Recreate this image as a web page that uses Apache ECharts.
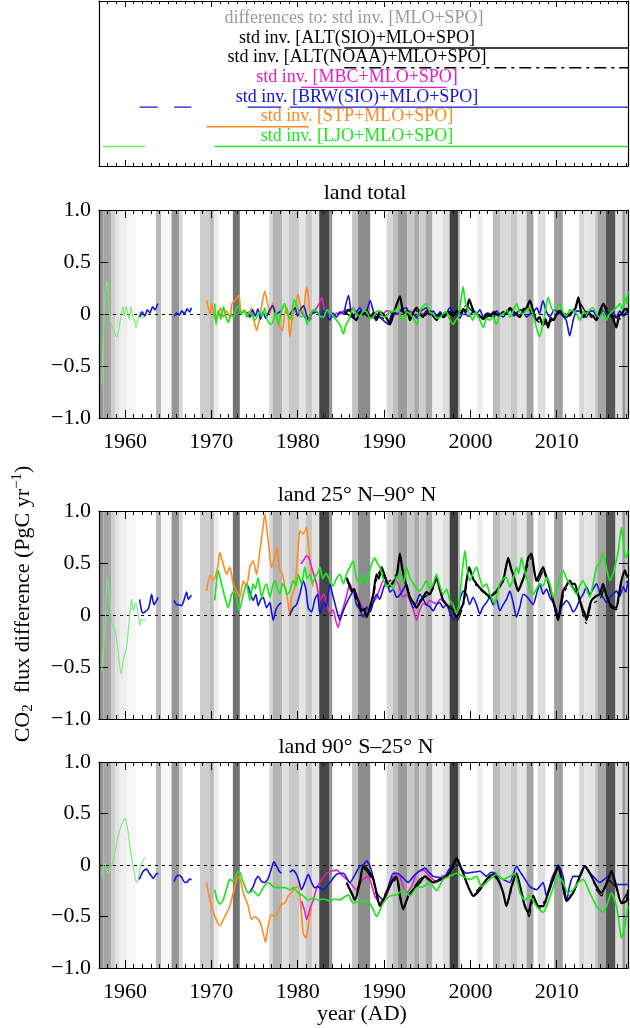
<!DOCTYPE html>
<html><head><meta charset="utf-8">
<script src="https://cdn.jsdelivr.net/npm/echarts@6/dist/echarts.min.js"></script>
<style>html,body{margin:0;padding:0;background:#fff}#c{width:630px;height:1028px}</style>
</head><body><div id="c"></div>
<script>
const FONT = '"Liberation Serif","Times New Roman","DejaVu Serif",serif';
const X_MIN = 1957, X_MAX = 2018.25;
const DECADES = [1960, 1970, 1980, 1990, 2000, 2010];
const Y_MIN = -1, Y_MAX = 1, Y_STEP = 0.5;

const panelTitles = ['land total', 'land 25\u00b0 N\u201390\u00b0 N', 'land 90\u00b0 S\u201325\u00b0 N'];
const legendTitle = 'differences to: std inv. [MLO+SPO]';
const legendLabels = ['std inv. [ALT(SIO)+MLO+SPO]', 'std inv. [ALT(NOAA)+MLO+SPO]', 'std inv. [MBC+MLO+SPO]',
  'std inv. [BRW(SIO)+MLO+SPO]', 'std inv. [STP+MLO+SPO]', 'std inv. [LJO+MLO+SPO]'];
const xTitle = 'year (AD)';

// record periods shown in the legend box
const periodAltSio = [[1985.4, 2018.25]];
const periodAltNoaa = [[1985.4, 2018.25]];
const periodMbc = [[1980.4, 1997.2]];
const periodBrw = [[1961.7, 1963.8], [1965.7, 1967.7], [1974.2, 1978.1], [1979.1, 2018.25]];
const periodStp = [[1969.45, 1981.3]];
const periodLjoEarly = [[1957.45, 1962.4]];
const periodLjo = [[1970.4, 2018.25]];

// grey shading bands [start, end, grey level]
const bands = [
[1957.0,1957.5,150],[1957.5,1958.4,165],[1958.4,1958.9,205],[1958.9,1959.4,225],[1959.4,1960.3,238],[1960.3,1961.3,246],
[1963.6,1964.2,185],[1964.2,1965.4,246],[1965.4,1966.3,150],[1966.3,1966.7,215],[1968.7,1969.8,205],[1969.8,1970.3,185],
[1970.3,1970.8,235],[1972.5,1973.3,115],[1976.7,1977.1,215],[1977.1,1978.2,180],[1978.2,1979.0,222],[1979.0,1980.2,200],
[1980.2,1980.9,228],[1980.9,1981.7,200],[1981.7,1982.5,225],[1982.5,1983.7,70],[1983.7,1984.0,150],[1986.3,1987.0,195],
[1987.0,1988.4,140],[1990.3,1991.0,215],[1991.0,1991.6,190],[1991.6,1992.7,155],[1992.7,1993.5,200],[1993.5,1994.1,170],
[1994.1,1994.8,205],[1994.8,1995.6,170],[1995.6,1996.8,238],[1996.8,1997.6,222],[1997.6,1998.6,65],[1998.6,1998.8,180],
[2000.8,2001.4,238],[2002.6,2003.5,190],[2003.5,2004.7,218],[2004.7,2005.4,200],[2005.4,2006.5,228],[2006.5,2007.3,165],
[2007.8,2008.7,222],[2009.7,2010.7,160],[2012.6,2013.2,215],[2013.2,2014.4,228],[2014.4,2014.7,200],[2014.7,2015.7,165],
[2015.7,2016.8,85],[2016.8,2017.6,222],[2017.6,2017.9,150],[2017.9,2018.25,200]
];

// ---------- panel 1: land total ----------
const p1LjoEarly = [[1957.3,-0.68],[1957.5,-0.2],[1957.7,0.18],[1957.95,0.32],[1958.15,0.05],[1958.35,-0.08],[1958.55,-0.13],[1958.8,-0.18],[1959.05,-0.22],[1959.3,-0.15],[1959.55,-0.02],[1959.75,0.07],[1959.95,-0.02],[1960.1,0.07],[1960.3,0.02],[1960.5,-0.05],[1960.7,0.07],[1960.9,-0.03],[1961.1,-0.06],[1961.3,-0.13],[1961.5,-0.05],[1961.75,0.02],[1962.0,-0.04],[1962.2,-0.02]];
const p1Brw = [[1961.7,-0.03],[1962.0,0.02],[1962.3,-0.02],[1962.6,0.04],[1962.9,0.01],[1963.2,0.07],[1963.5,0.04],[1963.8,0.1],null,
[1965.7,-0.02],[1966.0,0.01],[1966.3,-0.01],[1966.6,0.03],[1966.9,0.0],[1967.2,0.05],[1967.5,0.02],[1967.7,0.06],null,
[1974.2,0.02],[1974.5,-0.03],[1974.8,0.04],[1975.1,-0.02],[1975.4,0.05],[1975.7,-0.05],[1976.0,0.02],[1976.3,-0.04],[1976.7,0.03],[1977.1,0.08],[1977.5,0.0],[1978.1,0.03],null,
[1979.1,0.0],[1979.4,0.03],[1979.7,0.06],[1980.0,-0.02],[1980.3,0.04],[1980.7,0.08],[1981.0,0.0],[1981.3,-0.07],[1981.6,0.0],[1982.2,0.02],[1982.6,-0.02],[1983.0,0.03],[1983.4,0.0],[1983.7,-0.06],[1984.1,0.01],[1984.5,-0.03],[1984.9,0.02],[1985.3,0.0],[1985.6,0.1],[1985.9,0.18],[1986.2,0.0],[1986.4,-0.03],[1986.8,0.02],[1987.2,0.06],[1987.6,-0.01],[1988.0,0.03],[1988.4,0.13],[1988.8,0.02],[1989.1,0.0],[1989.5,-0.03],[1989.9,-0.06],[1990.5,-0.1],[1990.8,-0.02],[1991.1,0.02],[1991.6,0.0],[1992.0,0.04],[1992.6,0.06],[1993.0,-0.02],[1993.4,0.0],[1993.8,-0.04],[1994.2,0.02],[1994.9,0.06],[1995.3,-0.01],[1995.7,0.03],[1996.1,-0.02],[1996.5,0.02],[1997.0,-0.03],[1997.6,0.06],[1998.0,0.02],[1998.4,0.0],[1998.8,-0.04],[1999.2,0.03],[1999.6,-0.01],[1999.9,-0.02],[2000.3,0.02],[2000.7,0.0],[2001.1,0.04],[2001.5,-0.03],[2001.9,0.01],[2002.3,0.0],[2002.7,-0.04],[2003.0,0.03],[2003.4,0.0],[2003.8,-0.03],[2004.2,0.02],[2004.6,0.06],[2005.0,-0.02],[2005.3,0.0],[2005.7,0.04],[2006.1,0.03],[2006.5,-0.03],[2006.9,0.0],[2007.3,0.02],[2007.7,0.06],[2008.0,0.0],[2008.4,0.13],[2008.8,0.02],[2009.2,-0.03],[2009.7,0.04],[2010.2,0.02],[2010.7,-0.02],[2011.1,-0.06],[2011.5,-0.21],[2011.9,-0.06],[2012.3,0.03],[2012.7,0.02],[2013.1,-0.02],[2013.4,-0.03],[2013.8,0.02],[2014.2,0.03],[2014.6,-0.02],[2015.0,0.0],[2015.4,0.03],[2015.8,-0.02],[2016.2,0.01],[2016.5,0.02],[2016.9,-0.03],[2017.3,0.03],[2017.7,-0.02],[2018.1,0.02],[2018.25,0.0]];
const p1Stp = [[1969.45,0.13],[1969.65,0.06],[1969.85,0.0],[1970.05,0.1],[1970.25,0.02],[1970.5,-0.06],[1970.8,0.0],[1971.05,0.06],[1971.4,-0.03],[1971.75,0.03],[1972.15,-0.03],[1972.4,0.1],[1972.75,0.13],[1973.0,0.16],[1973.2,0.18],[1973.5,0.0],[1973.9,0.03],[1974.3,-0.03],[1974.65,0.06],[1974.95,-0.06],[1975.25,-0.16],[1975.55,-0.06],[1975.8,0.06],[1976.2,0.22],[1976.45,0.13],[1976.8,0.0],[1977.1,0.11],[1977.35,0.02],[1977.65,-0.06],[1977.95,-0.13],[1978.25,-0.16],[1978.5,0.0],[1978.8,0.06],[1979.1,-0.22],[1979.35,-0.06],[1979.7,0.06],[1980.05,0.19],[1980.35,0.06],[1980.65,0.0],[1980.9,0.19],[1981.1,0.26],[1981.35,0.06],[1981.6,-0.06]];
const p1Mbc = [[1980.4,0.02],[1980.8,-0.03],[1981.1,-0.05],[1981.4,-0.02],[1981.8,0.02],[1982.2,0.06],[1982.5,0.1],[1982.8,0.16],[1983.1,0.04],[1983.4,0.0],[1983.8,0.02],[1984.1,-0.03],[1984.5,0.01],[1984.9,0.0],[1985.3,0.03],[1985.7,0.02],[1986.1,0.04],[1986.4,0.06],[1986.8,0.02],[1987.2,0.0],[1987.6,0.03],[1988.0,0.02],[1988.4,-0.01],[1988.8,-0.03],[1989.1,-0.06],[1989.5,-0.02],[1989.9,0.0],[1990.3,0.03],[1990.7,0.02],[1991.1,-0.01],[1991.5,0.0],[1991.8,0.04],[1992.2,0.02],[1992.6,0.01],[1993.0,0.03],[1993.4,0.0],[1993.8,-0.03],[1994.1,0.01],[1994.5,0.0],[1994.9,0.03],[1995.3,0.02],[1995.7,-0.01],[1996.1,-0.02],[1996.5,0.01],[1996.9,-0.03],[1997.2,-0.02]];
const p1AltSio = [[1985.5,0.0],[1985.8,0.04],[1986.1,0.03],[1986.4,-0.02],[1986.8,-0.06],[1987.2,0.02],[1987.6,0.0],[1988.0,0.03],[1988.4,-0.03],[1988.8,0.01],[1989.1,-0.06],[1989.5,0.02],[1989.9,0.0],[1990.3,-0.04],[1990.7,-0.1],[1991.1,0.0],[1991.5,0.1],[1991.85,0.17],[1992.1,0.06],[1992.4,0.0],[1992.7,0.03],[1993.0,-0.06],[1993.4,0.02],[1993.8,0.06],[1994.2,0.0],[1994.5,-0.03],[1994.9,0.02],[1995.3,0.03],[1995.7,-0.02],[1996.1,-0.06],[1996.5,0.0],[1996.85,-0.03],[1997.2,0.01],[1997.6,0.02],[1998.0,-0.02],[1998.4,0.03],[1998.8,0.0],[1999.2,0.05],[1999.5,0.02],[1999.85,0.14],[2000.3,0.04],[2000.7,0.0],[2001.1,-0.02],[2001.5,-0.05],[2001.9,0.0],[2002.3,-0.02],[2002.7,0.02],[2003.0,0.0],[2003.4,-0.02],[2003.8,0.02],[2004.2,0.0],[2004.6,0.06],[2005.0,0.02],[2005.3,0.0],[2005.7,-0.03],[2006.1,0.03],[2006.5,0.06],[2006.9,0.13],[2007.3,0.02],[2007.65,-0.06],[2008.0,-0.03],[2008.4,-0.11],[2008.7,-0.05],[2009.0,-0.13],[2009.3,-0.04],[2009.6,-0.06],[2010.0,0.0],[2010.4,0.03],[2010.8,-0.01],[2011.1,-0.03],[2011.5,0.0],[2011.9,0.03],[2012.2,0.06],[2012.5,0.16],[2012.8,0.03],[2013.1,-0.03],[2013.5,0.02],[2013.8,0.0],[2014.2,-0.02],[2014.6,-0.06],[2015.0,0.03],[2015.4,0.1],[2015.8,0.02],[2016.1,0.0],[2016.5,-0.04],[2016.9,-0.13],[2017.2,-0.02],[2017.5,0.0],[2017.8,0.04],[2018.1,0.05],[2018.25,0.02]];
const p1AltNoaa = [[1985.5,0.02],[1986.5,-0.04],[1987.5,0.01],[1988.5,-0.04],[1989.5,-0.02],[1990.5,-0.08],[1991.5,0.08],[1992.5,0.0],[1993.5,0.04],[1994.5,-0.02],[1995.5,0.02],[1996.5,-0.04],[1997.5,0.01],[1998.5,0.02],[1999.5,0.08],[2000.5,0.0],[2001.5,-0.04],[2002.5,-0.01],[2003.5,0.01],[2004.5,0.05],[2005.5,0.0],[2006.5,0.08],[2007.5,-0.05],[2008.5,-0.1],[2009.5,-0.06],[2010.5,0.02],[2011.5,-0.02],[2012.5,0.12],[2013.5,0.0],[2014.5,-0.05],[2015.5,0.08],[2016.5,-0.02],[2017.5,-0.05],[2018.2,0.03]];
const p1Ljo = [[1970.4,0.1],[1970.55,-0.1],[1970.8,0.03],[1971.1,-0.05],[1971.4,0.07],[1971.7,-0.03],[1972.0,-0.08],[1972.3,0.0],[1972.6,-0.03],[1972.9,0.06],[1973.2,0.07],[1973.5,0.0],[1973.8,0.04],[1974.1,-0.03],[1974.4,0.02],[1974.7,0.0],[1975.0,-0.06],[1975.3,-0.03],[1975.6,0.02],[1975.9,-0.02],[1976.2,0.06],[1976.5,-0.06],[1976.9,-0.1],[1977.2,-0.06],[1977.5,0.02],[1977.8,-0.1],[1978.1,0.02],[1978.5,0.1],[1978.8,0.0],[1979.2,-0.05],[1979.6,0.14],[1980.0,0.06],[1980.4,-0.03],[1980.8,0.0],[1981.1,-0.1],[1981.4,-0.03],[1981.8,0.04],[1982.2,0.03],[1982.6,-0.02],[1983.0,-0.03],[1983.4,0.04],[1983.7,0.02],[1984.1,-0.02],[1984.5,-0.06],[1984.9,-0.1],[1985.3,-0.19],[1985.6,-0.1],[1985.9,-0.06],[1986.2,0.02],[1986.4,0.05],[1986.8,0.0],[1987.2,-0.02],[1987.6,0.03],[1988.0,0.02],[1988.4,-0.04],[1988.75,-0.03],[1989.1,0.02],[1989.5,0.03],[1989.9,-0.03],[1990.3,-0.02],[1990.7,0.03],[1991.1,0.02],[1991.6,0.06],[1991.9,-0.02],[1992.2,-0.06],[1992.6,0.02],[1993.0,0.0],[1993.4,-0.04],[1993.8,-0.1],[1994.1,0.0],[1994.35,0.06],[1994.9,0.1],[1995.3,0.02],[1995.7,0.0],[1996.1,-0.04],[1996.5,-0.03],[1996.9,0.01],[1997.2,0.02],[1997.6,-0.05],[1998.0,-0.1],[1998.3,-0.06],[1998.6,-0.03],[1998.9,0.12],[1999.15,0.26],[1999.45,0.1],[1999.75,0.03],[2000.0,-0.02],[2000.3,-0.06],[2000.6,0.02],[2000.9,-0.02],[2001.2,-0.08],[2001.5,-0.13],[2001.9,-0.04],[2002.25,-0.06],[2002.6,-0.02],[2003.0,-0.1],[2003.4,-0.02],[2003.8,0.0],[2004.2,0.04],[2004.6,-0.03],[2005.0,0.04],[2005.35,0.1],[2005.7,0.02],[2006.1,0.0],[2006.5,0.04],[2006.9,0.06],[2007.3,-0.02],[2007.65,-0.13],[2008.0,-0.22],[2008.4,-0.1],[2008.7,0.04],[2009.0,0.16],[2009.3,0.08],[2009.6,0.03],[2010.0,0.06],[2010.35,0.1],[2010.7,0.02],[2011.1,-0.02],[2011.5,0.04],[2011.9,0.03],[2012.3,0.0],[2012.7,-0.06],[2013.1,0.02],[2013.45,0.0],[2013.8,0.04],[2014.2,0.06],[2014.6,0.0],[2015.0,-0.03],[2015.4,0.02],[2015.75,-0.06],[2016.1,0.0],[2016.5,0.03],[2016.9,0.06],[2017.3,0.1],[2017.6,0.04],[2017.9,0.16],[2018.1,0.1],[2018.25,0.22]];

// ---------- panel 2: land 25N-90N ----------
const p2LjoEarly = [[1957.3,-0.54],[1957.5,-0.3],[1957.7,-0.12],[1957.96,0.36],[1958.25,0.14],[1958.45,-0.05],[1958.65,-0.12],[1958.85,-0.13],[1959.05,-0.25],[1959.25,-0.37],[1959.55,-0.57],[1959.8,-0.44],[1960.0,-0.37],[1960.2,-0.31],[1960.5,-0.05],[1960.77,0.15],[1960.97,0.04],[1961.16,0.11],[1961.35,0.09],[1961.55,0.01],[1961.75,-0.1],[1961.93,-0.04],[1962.12,-0.05],[1962.4,-0.04]];
const p2Brw = [[1961.7,0.15],[1961.93,0.04],[1962.1,0.02],[1962.32,0.03],[1962.7,0.06],[1962.9,0.12],[1963.09,0.2],[1963.36,0.1],[1963.6,0.13],[1963.85,0.17],null,
[1965.7,0.14],[1965.98,0.1],[1966.17,0.1],[1966.56,0.09],[1966.83,0.14],[1967.14,0.22],[1967.33,0.15],[1967.52,0.17],[1967.72,0.19],null,
[1974.25,0.28],[1974.55,0.2],[1974.85,0.14],[1975.16,0.2],[1975.43,0.09],[1975.74,0.15],[1976.01,0.17],[1976.4,0.07],[1976.78,0.12],[1976.98,0.03],[1977.17,-0.05],[1977.48,0.05],[1977.75,0.09],[1978.1,0.12],null,
[1979.1,0.0],[1979.48,0.07],[1979.87,0.1],[1980.26,0.2],[1980.64,0.33],[1980.95,0.25],[1981.22,0.07],[1981.61,0.03],[1981.99,0.15],[1982.3,0.2],[1982.58,0.01],[1983.0,0.12],[1983.3,0.08],[1983.73,0.3],[1984.1,0.18],[1984.5,0.05],[1984.89,-0.05],[1985.28,0.04],[1985.7,0.12],[1986.05,0.18],[1986.44,0.23],[1986.8,0.1],[1987.2,0.05],[1987.59,-0.02],[1988.0,0.08],[1988.4,0.03],[1988.75,0.12],[1989.14,0.2],[1989.5,0.15],[1989.9,0.25],[1990.29,0.33],[1990.7,0.22],[1991.05,0.25],[1991.45,0.17],[1991.9,0.2],[1992.25,0.25],[1992.61,0.3],[1993.0,0.15],[1993.38,0.07],[1993.75,0.12],[1994.15,0.2],[1994.55,0.15],[1994.9,0.1],[1995.3,0.08],[1995.69,0.04],[1996.1,0.1],[1996.45,0.12],[1996.85,0.07],[1997.24,0.1],[1997.62,0.02],[1998.01,-0.05],[1998.4,0.0],[1998.8,0.15],[1999.17,0.23],[1999.55,0.2],[1999.9,0.1],[2000.32,0.17],[2000.71,0.1],[2001.1,0.01],[2001.48,0.08],[2001.87,0.12],[2002.25,0.17],[2002.64,0.1],[2003.02,0.15],[2003.41,0.04],[2003.8,0.1],[2004.18,0.15],[2004.57,0.23],[2004.95,0.12],[2005.34,-0.02],[2005.73,0.08],[2006.11,0.2],[2006.5,0.18],[2006.88,0.14],[2007.27,0.1],[2007.65,0.2],[2008.04,0.3],[2008.43,0.2],[2008.81,0.25],[2009.2,0.17],[2009.58,0.12],[2009.97,0.05],[2010.16,-0.05],[2010.55,0.08],[2010.74,0.1],[2011.13,0.14],[2011.51,0.1],[2011.9,0.03],[2012.28,0.07],[2012.67,0.15],[2013.06,0.2],[2013.44,0.27],[2013.83,0.2],[2014.21,0.25],[2014.6,0.3],[2014.99,0.22],[2015.37,0.17],[2015.76,0.12],[2016.14,0.17],[2016.53,0.2],[2016.91,0.23],[2017.3,0.18],[2017.69,0.27],[2018.0,0.22],[2018.25,0.33]];
const p2Stp = [[1969.45,0.23],[1969.84,0.38],[1970.22,0.33],[1970.53,0.39],[1970.8,0.49],[1971.0,0.6],[1971.38,0.49],[1971.77,0.39],[1972.15,0.46],[1972.54,0.3],[1972.93,0.23],[1973.31,0.17],[1973.7,0.33],[1974.08,0.27],[1974.47,0.46],[1974.85,0.52],[1975.24,0.39],[1975.63,0.62],[1975.94,0.81],[1976.2,0.97],[1976.59,0.71],[1976.98,0.46],[1977.36,0.55],[1977.56,0.65],[1977.94,0.43],[1978.25,0.39],[1978.52,0.27],[1978.79,0.17],[1979.1,-0.01],[1979.29,0.17],[1979.68,0.27],[1980.06,0.65],[1980.26,0.81],[1980.64,0.78],[1981.03,0.84],[1981.22,0.7],[1981.41,0.55],[1981.6,0.35],[1981.8,0.27]];
const p2Mbc = [[1980.35,0.49],[1980.64,0.52],[1981.03,0.57],[1981.3,0.55],[1981.61,0.46],[1981.9,0.38],[1982.19,0.3],[1982.58,0.14],[1983.0,0.2],[1983.35,0.12],[1983.73,0.01],[1984.1,0.05],[1984.4,-0.05],[1984.7,-0.12],[1985.0,0.0],[1985.28,0.07],[1985.7,0.2],[1986.05,0.3],[1986.44,0.22],[1986.82,0.2],[1987.2,0.12],[1987.59,0.07],[1988.17,0.04],[1988.6,0.1],[1989.14,0.17],[1989.5,0.25],[1989.91,0.33],[1990.3,0.3],[1990.68,0.27],[1991.05,0.3],[1991.45,0.33],[1991.85,0.25],[1992.22,0.17],[1992.6,0.2],[1992.99,0.14],[1993.4,0.05],[1993.77,-0.05],[1994.15,0.05],[1994.54,0.11],[1994.9,0.1],[1995.31,0.14],[1995.7,0.12],[1996.08,0.11],[1996.5,0.15],[1996.85,0.14],[1997.2,0.12]];
const p2AltSio = [[1985.66,0.36],[1985.95,0.3],[1986.24,0.23],[1986.55,0.25],[1986.82,0.17],[1987.1,0.12],[1987.4,0.04],[1987.7,0.06],[1987.98,-0.02],[1988.36,0.07],[1988.75,0.2],[1989.14,0.39],[1989.4,0.35],[1989.71,0.46],[1990.0,0.4],[1990.29,0.33],[1990.7,0.28],[1991.07,0.32],[1991.45,0.36],[1991.84,0.59],[1992.1,0.45],[1992.42,0.33],[1992.7,0.25],[1992.99,0.17],[1993.4,0.12],[1993.77,0.07],[1994.15,0.12],[1994.54,0.17],[1994.9,0.22],[1995.31,0.2],[1995.7,0.28],[1996.08,0.36],[1996.45,0.25],[1996.85,0.14],[1997.24,0.1],[1997.62,0.07],[1998.0,0.05],[1998.4,-0.02],[1998.8,0.04],[1999.17,0.11],[1999.5,0.3],[1999.86,0.46],[2000.3,0.35],[2000.71,0.3],[2001.1,0.26],[2001.48,0.23],[2001.87,0.2],[2002.25,0.17],[2002.64,0.2],[2003.02,0.23],[2003.4,0.28],[2003.8,0.33],[2004.1,0.45],[2004.38,0.55],[2004.7,0.45],[2004.95,0.39],[2005.25,0.3],[2005.53,0.23],[2005.9,0.3],[2006.3,0.39],[2006.69,0.55],[2007.08,0.59],[2007.35,0.45],[2007.65,0.33],[2008.05,0.4],[2008.43,0.46],[2008.7,0.38],[2009.0,0.33],[2009.4,0.2],[2009.78,0.07],[2010.16,-0.05],[2010.45,0.1],[2010.74,0.23],[2011.1,0.28],[2011.51,0.33],[2011.8,0.3],[2012.09,0.3],[2012.4,0.22],[2012.67,0.14],[2013.0,0.06],[2013.25,0.01],[2013.44,-0.05],[2013.7,0.05],[2014.02,0.14],[2014.5,0.18],[2014.99,0.2],[2015.37,0.3],[2015.7,0.2],[2016.14,0.11],[2016.5,0.08],[2016.91,0.07],[2017.2,0.2],[2017.49,0.33],[2017.88,0.43],[2018.1,0.38],[2018.25,0.36]];
const p2AltNoaa = [[1985.7,0.33],[1986.5,0.2],[1987.5,0.05],[1988.5,0.1],[1989.5,0.42],[1990.5,0.32],[1991.5,0.4],[1991.85,0.55],[1992.5,0.3],[1993.5,0.1],[1994.5,0.16],[1995.5,0.22],[1996.1,0.34],[1997.0,0.12],[1998.0,0.04],[1998.5,-0.05],[1999.2,0.1],[1999.9,0.43],[2000.7,0.28],[2001.5,0.22],[2002.5,0.18],[2003.5,0.28],[2004.4,0.52],[2005.5,0.24],[2006.5,0.45],[2007.1,0.56],[2007.7,0.3],[2008.5,0.43],[2009.5,0.15],[2010.2,-0.03],[2010.8,0.2],[2011.5,0.3],[2012.5,0.18],[2013.4,-0.08],[2014.0,0.1],[2015.0,0.15],[2015.5,0.25],[2016.2,0.08],[2016.9,0.05],[2017.5,0.3],[2018.2,0.32]];
const p2Ljo = [[1970.4,0.14],[1970.61,0.33],[1970.8,0.43],[1971.19,0.3],[1971.57,0.17],[1971.96,0.07],[1972.35,0.2],[1972.73,0.23],[1973.23,0.04],[1973.7,0.2],[1974.08,0.3],[1974.47,0.14],[1974.85,0.3],[1975.1,0.25],[1975.43,0.36],[1975.82,0.17],[1976.1,0.25],[1976.4,0.3],[1976.78,0.17],[1977.1,0.28],[1977.36,0.33],[1977.65,0.25],[1977.94,0.2],[1978.25,0.3],[1978.52,0.27],[1978.8,0.2],[1979.1,0.23],[1979.48,0.33],[1979.8,0.28],[1980.06,0.39],[1980.45,0.3],[1980.83,0.46],[1981.1,0.35],[1981.41,0.39],[1981.7,0.3],[1981.99,0.36],[1982.3,0.4],[1982.58,0.46],[1982.9,0.35],[1983.3,0.4],[1983.73,0.33],[1984.1,0.28],[1984.5,0.35],[1984.89,0.39],[1985.3,0.3],[1985.7,0.4],[1986.05,0.46],[1986.44,0.52],[1986.8,0.35],[1987.2,0.3],[1987.59,0.39],[1988.0,0.3],[1988.4,0.45],[1988.94,0.55],[1989.2,0.5],[1989.52,0.46],[1989.9,0.35],[1990.29,0.27],[1990.7,0.3],[1991.07,0.25],[1991.45,0.36],[1991.9,0.4],[1992.25,0.3],[1992.61,0.46],[1992.99,0.36],[1993.4,0.3],[1993.8,0.25],[1994.15,0.23],[1994.54,0.28],[1994.92,0.33],[1995.3,0.25],[1995.7,0.3],[1996.08,0.39],[1996.47,0.28],[1996.85,0.2],[1997.24,0.25],[1997.62,0.14],[1998.0,0.1],[1998.4,0.01],[1998.8,0.2],[1999.1,0.45],[1999.36,0.62],[1999.6,0.45],[1999.94,0.33],[2000.3,0.4],[2000.71,0.46],[2001.1,0.35],[2001.48,0.27],[2001.87,0.3],[2002.25,0.2],[2002.55,0.15],[2002.83,0.11],[2003.1,0.2],[2003.41,0.3],[2003.8,0.35],[2004.18,0.36],[2004.57,0.27],[2004.95,0.35],[2005.34,0.46],[2005.6,0.4],[2005.92,0.55],[2006.2,0.45],[2006.5,0.36],[2006.88,0.25],[2007.27,0.2],[2007.65,0.25],[2008.04,0.3],[2008.43,0.28],[2008.81,0.36],[2009.2,0.3],[2009.58,0.17],[2009.97,0.25],[2010.36,0.35],[2010.74,0.43],[2011.13,0.35],[2011.51,0.3],[2011.9,0.25],[2012.28,0.2],[2012.67,0.28],[2013.06,0.33],[2013.44,0.25],[2013.83,0.17],[2014.21,0.3],[2014.6,0.46],[2014.99,0.5],[2015.37,0.59],[2015.76,0.45],[2016.14,0.33],[2016.53,0.4],[2016.72,0.46],[2017.1,0.6],[2017.49,0.84],[2017.7,0.7],[2017.88,0.59],[2018.1,0.55],[2018.25,0.62]];

// ---------- panel 3: land 90S-25N ----------
const p3LjoEarly = [[1957.3,-0.11],[1957.5,-0.01],[1957.69,0.02],[1957.88,-0.06],[1958.07,-0.08],[1958.46,-0.01],[1958.84,0.12],[1959.11,0.25],[1959.42,0.34],[1959.73,0.42],[1960.0,0.45],[1960.19,0.41],[1960.39,0.31],[1960.58,0.18],[1960.89,0.02],[1961.16,-0.11],[1961.35,-0.17],[1961.54,-0.14],[1961.81,-0.01],[1962.12,0.05],[1962.35,0.07]];
const p3Brw = [[1961.66,-0.14],[1961.93,-0.09],[1962.12,-0.06],[1962.51,-0.04],[1962.82,-0.08],[1963.09,-0.11],[1963.28,-0.13],[1963.6,-0.09],[1963.86,-0.08],null,
[1965.7,-0.16],[1965.98,-0.11],[1966.25,-0.1],[1966.56,-0.12],[1966.83,-0.16],[1967.14,-0.17],[1967.45,-0.14],[1967.72,-0.14],null,
[1974.4,-0.27],[1974.85,-0.21],[1975.16,-0.14],[1975.43,-0.11],[1975.82,-0.16],[1976.2,-0.17],[1976.59,-0.13],[1976.98,-0.03],[1977.25,0.03],[1977.56,-0.01],[1977.86,-0.06],[1978.13,-0.08],null,
[1979.1,-0.07],[1979.41,-0.05],[1979.79,-0.08],[1980.06,-0.13],[1980.45,-0.24],[1980.83,-0.17],[1981.22,-0.09],[1981.61,-0.17],[1981.99,-0.22],[1982.3,-0.21],[1982.96,-0.24],[1983.73,-0.17],[1984.51,-0.09],[1985.28,-0.08],[1986.05,-0.17],[1986.6,-0.1],[1987.21,-0.01],[1987.6,0.0],[1987.98,0.04],[1988.36,-0.01],[1988.75,-0.12],[1989.14,-0.27],[1989.91,-0.34],[1990.49,-0.21],[1991.07,-0.08],[1991.5,-0.08],[1992.03,-0.11],[1992.8,-0.17],[1993.3,-0.12],[1993.77,-0.08],[1994.25,-0.05],[1994.73,-0.03],[1995.2,-0.07],[1995.69,-0.11],[1996.3,-0.12],[1996.85,-0.14],[1997.4,-0.06],[1997.82,-0.01],[1998.4,0.05],[1998.9,-0.03],[1999.55,-0.08],[2000.3,-0.07],[2001.1,-0.06],[2001.87,-0.11],[2002.4,-0.07],[2002.83,-0.08],[2003.4,-0.12],[2003.8,-0.14],[2004.57,-0.17],[2005.0,-0.08],[2005.34,-0.01],[2005.7,-0.06],[2006.11,-0.11],[2006.88,-0.21],[2007.65,-0.24],[2008.1,-0.2],[2008.43,-0.17],[2008.81,-0.3],[2009.39,-0.14],[2009.8,-0.06],[2010.16,0.0],[2010.74,-0.11],[2011.13,-0.35],[2011.5,-0.2],[2011.9,-0.11],[2012.67,-0.11],[2013.25,-0.01],[2013.7,-0.06],[2014.21,-0.11],[2014.99,-0.17],[2015.5,-0.14],[2015.95,-0.11],[2016.34,-0.08],[2016.91,-0.19],[2017.69,-0.19],[2018.25,-0.19]];
const p3Stp = [[1969.45,-0.17],[1969.84,-0.34],[1970.42,-0.5],[1971.0,-0.59],[1971.57,-0.5],[1972.15,-0.4],[1972.54,-0.27],[1972.93,-0.14],[1973.23,-0.11],[1973.7,-0.27],[1974.28,-0.4],[1974.66,-0.53],[1975.05,-0.5],[1975.63,-0.55],[1976.01,-0.66],[1976.28,-0.75],[1976.59,-0.59],[1976.98,-0.48],[1977.36,-0.5],[1977.75,-0.45],[1978.13,-0.38],[1978.52,-0.37],[1978.9,-0.3],[1979.29,-0.27],[1979.68,-0.22],[1980.06,-0.21],[1980.37,-0.4],[1980.64,-0.66],[1980.95,-0.71],[1981.34,-0.53],[1981.6,-0.42]];
const p3Mbc = [[1980.45,-0.35],[1980.83,-0.45],[1981.03,-0.53],[1981.41,-0.43],[1981.8,-0.34],[1982.19,-0.23],[1982.77,-0.14],[1983.35,-0.08],[1983.9,-0.06],[1984.51,-0.05],[1985.28,-0.11],[1986.05,-0.17],[1986.82,-0.24],[1987.2,-0.18],[1987.59,-0.14],[1988.17,-0.11],[1988.94,-0.3],[1989.52,-0.37],[1990.29,-0.3],[1991.07,-0.11],[1991.64,-0.08],[1992.22,-0.21],[1992.61,-0.27],[1993.19,-0.21],[1993.77,-0.08],[1994.54,-0.05],[1995.31,-0.11],[1996.08,-0.17],[1996.66,-0.11],[1997.2,-0.1]];
const p3AltSio = [[1985.66,-0.17],[1986.24,-0.27],[1986.63,-0.34],[1987.21,-0.17],[1987.59,-0.01],[1988.17,-0.05],[1988.75,-0.14],[1989.14,-0.27],[1989.52,-0.4],[1990.29,-0.27],[1991.07,-0.14],[1991.45,-0.11],[1991.84,-0.3],[1992.22,-0.43],[1992.8,-0.3],[1993.38,-0.24],[1994.15,-0.17],[1994.73,-0.11],[1995.69,-0.17],[1996.47,-0.14],[1997.24,-0.11],[1998.01,-0.01],[1998.4,0.07],[1999.17,-0.08],[1999.75,-0.21],[2000.32,-0.3],[2001.1,-0.24],[2001.87,-0.14],[2002.64,-0.09],[2003.22,-0.14],[2003.8,-0.27],[2004.18,-0.4],[2004.76,-0.21],[2005.34,-0.08],[2005.92,-0.27],[2006.3,-0.4],[2006.69,-0.46],[2007.27,-0.3],[2007.85,-0.4],[2008.43,-0.4],[2009.0,-0.27],[2009.58,-0.14],[2010.16,-0.01],[2010.74,-0.21],[2011.13,-0.35],[2011.9,-0.27],[2012.67,-0.11],[2013.25,-0.01],[2014.02,-0.11],[2014.6,-0.21],[2015.18,-0.27],[2015.95,-0.14],[2016.34,-0.06],[2016.91,-0.21],[2017.49,-0.37],[2018.07,-0.35],[2018.25,-0.24]];
const p3AltNoaa = [[1985.7,-0.18],[1986.6,-0.33],[1987.6,-0.03],[1988.7,-0.15],[1989.5,-0.38],[1990.5,-0.22],[1991.5,-0.13],[1992.2,-0.41],[1993.2,-0.25],[1994.5,-0.12],[1995.7,-0.16],[1996.5,-0.15],[1997.5,-0.08],[1998.4,0.05],[1999.2,-0.1],[2000.3,-0.28],[2001.5,-0.18],[2002.6,-0.1],[2003.5,-0.2],[2004.2,-0.38],[2005.3,-0.1],[2006.3,-0.38],[2006.8,-0.5],[2007.3,-0.32],[2008.0,-0.42],[2009.0,-0.28],[2010.2,-0.03],[2011.1,-0.33],[2012.0,-0.25],[2013.3,-0.02],[2014.0,-0.1],[2014.6,-0.24],[2015.2,-0.3],[2016.0,-0.15],[2016.9,-0.22],[2017.5,-0.36],[2018.2,-0.26]];
const p3Ljo = [[1970.4,-0.24],[1970.69,-0.34],[1971.0,-0.38],[1971.38,-0.34],[1971.85,-0.21],[1972.15,-0.14],[1972.54,-0.16],[1972.93,-0.09],[1973.23,-0.06],[1973.7,-0.17],[1974.28,-0.27],[1974.85,-0.25],[1975.43,-0.3],[1976.01,-0.22],[1976.59,-0.17],[1977.17,-0.21],[1977.94,-0.22],[1978.52,-0.22],[1979.1,-0.24],[1979.48,-0.22],[1980.06,-0.27],[1980.64,-0.3],[1981.22,-0.34],[1981.8,-0.32],[1982.38,-0.34],[1983.0,-0.33],[1983.73,-0.35],[1984.3,-0.33],[1984.89,-0.34],[1985.4,-0.31],[1985.86,-0.29],[1986.44,-0.37],[1987.21,-0.35],[1987.98,-0.35],[1988.56,-0.4],[1989.14,-0.5],[1989.91,-0.37],[1990.68,-0.3],[1991.45,-0.29],[1992.22,-0.24],[1992.99,-0.3],[1993.77,-0.22],[1994.54,-0.21],[1995.31,-0.17],[1996.08,-0.25],[1996.85,-0.14],[1997.62,-0.11],[1998.4,-0.08],[1999.17,-0.11],[1999.94,-0.14],[2000.71,-0.11],[2001.29,-0.21],[2001.87,-0.17],[2002.64,-0.11],[2003.02,-0.09],[2003.8,-0.14],[2004.57,-0.11],[2005.15,-0.08],[2005.73,-0.27],[2006.3,-0.34],[2006.88,-0.3],[2007.65,-0.4],[2008.43,-0.46],[2009.0,-0.36],[2009.39,-0.27],[2010.16,-0.11],[2010.74,-0.17],[2011.32,-0.27],[2011.9,-0.24],[2012.48,-0.17],[2013.06,-0.14],[2013.83,-0.27],[2014.6,-0.4],[2015.37,-0.46],[2015.76,-0.4],[2016.34,-0.27],[2016.91,-0.4],[2017.2,-0.55],[2017.49,-0.71],[2017.88,-0.59],[2018.25,-0.4]];

// ---------- styling & layout ----------
const C = {altSio:'#000000', altNoaa:'#000000', mbc:'#e61ec8', brw:'#1414dc', stp:'#ff8a1e', ljo:'#1ee61e', ljoEarly:'#74ec74', grey:'#9a9a9a'};
const DASHDOT = [12, 5, 3, 5];
const GRID_LEFT = 99, GRID_W = 529;
const grids = [
  {left: GRID_LEFT, width: GRID_W, top: 1, height: 165},
  {left: GRID_LEFT, width: GRID_W, top: 210, height: 208},
  {left: GRID_LEFT, width: GRID_W, top: 511, height: 208},
  {left: GRID_LEFT, width: GRID_W, top: 762, height: 206}
];
const axisLineStyle = {color: '#000', width: 1.2};

const xAxes = [], yAxes = [];
grids.forEach((g, gi) => {
  const isLegend = gi === 0;
  const showLabels = gi === 1 || gi === 3;
  const majorLen = isLegend ? 6 : 8, minorLen = isLegend ? 3 : 4;
  const base = {type: 'value', gridIndex: gi, min: X_MIN, max: X_MAX, splitLine: {show: false}};
  ['bottom', 'top'].forEach(pos => {
    xAxes.push(Object.assign({}, base, {
      position: pos,
      axisLine: {show: true, onZero: false, lineStyle: axisLineStyle},
      axisTick: {show: true, inside: true, length: majorLen, customValues: DECADES, lineStyle: {color: '#000', width: 1}},
      axisLabel: {show: pos === 'bottom' && showLabels, customValues: DECADES, fontFamily: FONT, fontSize: 22, color: '#000', margin: 13,
        formatter: v => String(Math.round(v))}
    }));
    xAxes.push(Object.assign({}, base, {
      position: pos, interval: 1,
      axisLine: {show: false, onZero: false},
      axisTick: {show: true, inside: true, length: minorLen, lineStyle: {color: '#000', width: 1}},
      axisLabel: {show: false}
    }));
  });
  if (isLegend) {
    ['left', 'right'].forEach(pos => yAxes.push({type: 'value', gridIndex: gi, position: pos, min: 0, max: 165, inverse: true,
      axisLine: {show: true, onZero: false, lineStyle: axisLineStyle}, axisTick: {show: false}, axisLabel: {show: false}, splitLine: {show: false}}));
  } else {
    ['left', 'right'].forEach(pos => yAxes.push({type: 'value', gridIndex: gi, position: pos, min: Y_MIN, max: Y_MAX, interval: Y_STEP,
      axisLine: {show: true, onZero: false, lineStyle: axisLineStyle},
      axisTick: {show: true, inside: true, length: 9, lineStyle: {color: '#000', width: 1}},
      axisLabel: {show: pos === 'left', fontFamily: FONT, fontSize: 22, color: '#000', margin: 8,
        formatter: v => v === 0 ? '0' : (v < 0 ? '\u2212' : '') + Math.abs(v).toFixed(1)},
      splitLine: {show: false}}));
  }
});

function renderBand(params, api) {
  const cs = params.coordSys;
  const a = api.coord([api.value(0), Y_MAX]);
  const b = api.coord([api.value(1), Y_MIN]);
  const x0 = Math.max(a[0], cs.x), x1 = Math.min(b[0], cs.x + cs.width);
  const g = api.value(2);
  return {type: 'rect', shape: {x: x0, y: a[1], width: Math.max(0, x1 - x0), height: b[1] - a[1]},
    style: {fill: 'rgb(' + g + ',' + g + ',' + g + ')'}};
}

const series = [];
function lineSeries(gi, data, color, width, type, z) {
  return {type: 'line', xAxisIndex: gi * 4, yAxisIndex: gi * 2, data: data, symbol: 'none', showSymbol: false,
    connectNulls: false, smooth: 0.2, silent: true, animation: false, z: z || 3,
    lineStyle: {color: color, width: width, type: type || 'solid'}};
}
const panels = [
  {ljoEarly: p1LjoEarly, stp: p1Stp, mbc: p1Mbc, brw: p1Brw, altSio: p1AltSio, altNoaa: p1AltNoaa, ljo: p1Ljo},
  {ljoEarly: p2LjoEarly, stp: p2Stp, mbc: p2Mbc, brw: p2Brw, altSio: p2AltSio, altNoaa: p2AltNoaa, ljo: p2Ljo},
  {ljoEarly: p3LjoEarly, stp: p3Stp, mbc: p3Mbc, brw: p3Brw, altSio: p3AltSio, altNoaa: p3AltNoaa, ljo: p3Ljo}
];
panels.forEach((p, i) => {
  const gi = i + 1;
  series.push({type: 'custom', xAxisIndex: gi * 4, yAxisIndex: gi * 2, data: bands, renderItem: renderBand,
    silent: true, animation: false, z: 0,
    markLine: {silent: true, symbol: 'none', z: 1, animation: false, label: {show: false},
      lineStyle: {color: '#000', width: 1, type: [3, 4]}, data: [{yAxis: 0}]}});
  series.push(lineSeries(gi, p.ljoEarly, C.ljoEarly, 1.1));
  series.push(lineSeries(gi, p.stp, C.stp, 1.6));
  series.push(lineSeries(gi, p.mbc, C.mbc, 1.6));
  series.push(lineSeries(gi, p.brw, C.brw, 1.6));
  series.push(lineSeries(gi, p.altNoaa, C.altNoaa, 1.3, DASHDOT));
  series.push(lineSeries(gi, p.altSio, C.altSio, 2.2));
  series.push(lineSeries(gi, p.ljo, C.ljo, 1.7));
});

// legend-box lines (record periods)
function legendRowY(k) { return 47 + (k - 1) * 19.7; }
function periodData(periods, k) {
  const out = [];
  periods.forEach((s, i) => { if (i) out.push(null); out.push([s[0], legendRowY(k)], [s[1], legendRowY(k)]); });
  return out;
}
[[periodAltSio, 1, C.altSio, 'solid'], [periodAltNoaa, 2, C.altNoaa, DASHDOT], [periodMbc, 3, C.mbc, 'solid'],
 [periodBrw, 4, C.brw, 'solid'], [periodStp, 5, C.stp, 'solid'], [periodLjoEarly, 6, C.ljoEarly, 'solid'], [periodLjo, 6, C.ljo, 'solid']]
.forEach(([per, k, col, type]) => {
  series.push({type: 'line', xAxisIndex: 0, yAxisIndex: 0, data: periodData(per, k), symbol: 'none', showSymbol: false,
    connectNulls: false, silent: true, animation: false, lineStyle: {color: col, width: 1.4, type: type}});
});

// texts
const graphic = [];
const legendColors = [C.altSio, C.altNoaa, C.mbc, C.brw, C.stp, C.ljo];
graphic.push({type: 'text', x: 354, y: 18.5, style: {text: legendTitle, font: '18px ' + FONT, fill: C.grey, textAlign: 'center', textVerticalAlign: 'middle'}});
legendLabels.forEach((t, i) => graphic.push({type: 'text', x: 357, y: 18.5 + 19.6 * (i + 1),
  style: {text: t, font: '18px ' + FONT, fill: legendColors[i], textAlign: 'center', textVerticalAlign: 'middle'}}));
const titleY = [193, 495, 747], titleX = [365, 357, 356];
panelTitles.forEach((t, i) => graphic.push({type: 'text', x: titleX[i], y: titleY[i],
  style: {text: t, font: '22px ' + FONT, fill: '#000', textAlign: 'center', textVerticalAlign: 'middle'}}));
graphic.push({type: 'text', x: 362, y: 1014, style: {text: xTitle, font: '22px ' + FONT, fill: '#000', textAlign: 'center', textVerticalAlign: 'middle'}});
graphic.push({type: 'text', x: 23, y: 604, rotation: Math.PI / 2,
  style: {text: 'CO{sub|2}  flux difference (PgC yr{sup|\u22121})', font: '22px ' + FONT, fill: '#000',
    textAlign: 'center', textVerticalAlign: 'middle', lineHeight: 26,
    rich: {sub: {fontSize: 15, fontFamily: FONT, verticalAlign: 'bottom', lineHeight: 14},
           sup: {fontSize: 15, fontFamily: FONT, verticalAlign: 'top', lineHeight: 14}}}});

const chart = echarts.init(document.getElementById('c'), null, {renderer: 'canvas'});
chart.setOption({
  animation: false,
  backgroundColor: '#fff',
  grid: grids,
  xAxis: xAxes,
  yAxis: yAxes,
  series: series,
  graphic: graphic
});
</script>
</body></html>
